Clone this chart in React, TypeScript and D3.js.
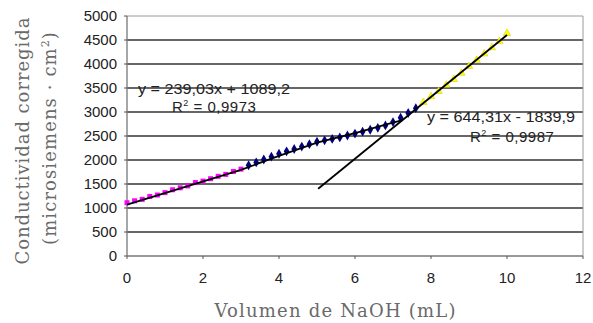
import * as d3 from "d3";

const xTicks = [0, 2, 4, 6, 8, 10, 12];
const yTicks = [0, 500, 1000, 1500, 2000, 2500, 3000, 3500, 4000, 4500, 5000];

// pink squares (acid region)
const pinkX = [0, 0.2, 0.4, 0.6, 0.8, 1.0, 1.2, 1.4, 1.6, 1.8, 2.0, 2.2, 2.4, 2.6, 2.8, 3.0];
const pinkY = [1110, 1150, 1180, 1240, 1270, 1320, 1380, 1420, 1460, 1530, 1560, 1610, 1660, 1700, 1760, 1810];

// navy diamonds (middle region)
const blueX = [3.2, 3.4, 3.6, 3.8, 4.0, 4.2, 4.4, 4.6, 4.8, 5.0, 5.2, 5.4, 5.6, 5.8, 6.0, 6.2, 6.4, 6.6, 6.8, 7.0, 7.2, 7.4, 7.6];
const blueY = [1890, 1950, 2010, 2070, 2130, 2180, 2230, 2280, 2330, 2380, 2410, 2440, 2470, 2510, 2550, 2590, 2630, 2670, 2720, 2790, 2880, 2980, 3080];

// yellow triangles (excess base)
const yellowX = [7.8, 8.0, 8.2, 8.4, 8.6, 8.8, 9.0, 9.2, 9.4, 9.6, 9.8, 10.0];
const yellowY = [3200, 3320, 3430, 3560, 3680, 3810, 3950, 4080, 4210, 4340, 4470, 4640];

// first trend line as drawn, second from its equation
const trend1X = [0, 3, 4, 5, 6, 6.9, 7.25];
const trend1Y = [1070, 1795, 2085, 2360, 2560, 2760, 2831];
const trend2Range = [5.03, 10];
const slope2 = 644.31;
const intercept2 = -1839.9;

export default function App() {
  const width = 593;
  const height = 323;
  const margin = { top: 16, right: 10, bottom: 67, left: 127 };
  const x = d3.scaleLinear([0, 12], [margin.left, width - margin.right]);
  const y = d3.scaleLinear([0, 5000], [height - margin.bottom, margin.top]);
  const tickFont = "'Liberation Sans', Arial, sans-serif";
  const titleFont = "'DejaVu Serif', serif";

  const line = d3.line<[number, number]>().x(d => x(d[0])).y(d => y(d[1]));
  const trend1 = trend1X.map((v, i) => [v, trend1Y[i]] as [number, number]);
  const trend2 = trend2Range.map(v => [v, slope2 * v + intercept2] as [number, number]);
  const tri = d3.symbol(d3.symbolTriangle, 24)() ?? "";
  const dia = d3.symbol(d3.symbolDiamond, 28)() ?? "";

  return (
    <svg
      width={width}
      height={height}
      viewBox={`0 0 ${width} ${height}`}
      style={{ position: "absolute", left: 0, top: 0, background: "#fff" }}
    >
      {yTicks.filter(t => t > 0 && t < 5000).map(t => (
        <line key={t} x1={x(0)} x2={x(12)} y1={y(t)} y2={y(t)} stroke="#333" strokeWidth={1.4} />
      ))}
      <line x1={x(0)} x2={x(12)} y1={y(5000)} y2={y(5000)} stroke="#9a9a9a" strokeWidth={1} />
      <line x1={x(12)} x2={x(12)} y1={y(5000)} y2={y(0)} stroke="#9a9a9a" strokeWidth={1} />
      <line x1={x(0)} x2={x(0)} y1={y(5000)} y2={y(0)} stroke="#777" strokeWidth={1.3} />
      <line x1={x(0)} x2={x(12)} y1={y(0)} y2={y(0)} stroke="#777" strokeWidth={1.3} />

      {yTicks.map(t => (
        <g key={t}>
          <line x1={x(0) - 3} x2={x(0)} y1={y(t)} y2={y(t)} stroke="#555" />
          <text x={x(0) - 10} y={y(t) + 5} textAnchor="end" fontFamily={tickFont} fontSize={15} fill="#222">{t}</text>
        </g>
      ))}
      {xTicks.map(t => (
        <g key={t}>
          <line x1={x(t)} x2={x(t)} y1={y(0)} y2={y(0) + 3} stroke="#555" />
          <text x={x(t)} y={283} textAnchor="middle" fontFamily={tickFont} fontSize={15} fill="#222">{t}</text>
        </g>
      ))}

      {pinkX.map((v, i) => (
        <rect key={`p${i}`} x={x(v) - 2.5} y={y(pinkY[i]) - 2.5} width={5} height={5} fill="#ff00ff" />
      ))}
      {blueX.map((v, i) => (
        <path key={`b${i}`} d={dia} transform={`translate(${x(v)},${y(blueY[i])})`} fill="#000080" />
      ))}
      {yellowX.map((v, i) => (
        <path key={`y${i}`} d={tri} transform={`translate(${x(v)},${y(yellowY[i])})`} fill="#ffff00" stroke="#c8c800" strokeWidth={0.5} />
      ))}

      <path d={line(trend1) ?? undefined} fill="none" stroke="#000" strokeWidth={1.8} />
      <path d={line(trend2) ?? undefined} fill="none" stroke="#000" strokeWidth={1.8} />

      <g fontFamily={tickFont} fontSize={15} fill="#222">
        <text x={138} y={94} textLength={152} lengthAdjust="spacingAndGlyphs">y = 239,03x + 1089,2</text>
        <text x={172} y={112} letterSpacing={0.5}>R<tspan dy={-6} fontSize={9}>2</tspan><tspan dy={6}> = 0,9973</tspan></text>
        <text x={427} y={122} textLength={148} lengthAdjust="spacingAndGlyphs">y = 644,31x - 1839,9</text>
        <text x={470} y={142} letterSpacing={0.5}>R<tspan dy={-6} fontSize={9}>2</tspan><tspan dy={6}> = 0,9987</tspan></text>
      </g>

      <g fontFamily={titleFont} fontSize={18} fill="#6a6a6a">
        <text x={335} y={317} textAnchor="middle" textLength={241} lengthAdjust="spacing">Volumen de NaOH (mL)</text>
        <text transform="translate(29,141) rotate(-90)" textAnchor="middle" textLength={247} lengthAdjust="spacing">Conductividad corregida</text>
        <text transform="translate(56,138) rotate(-90)" textAnchor="middle" letterSpacing={1.1}>
          (microsiemens · cm<tspan dy={-7} fontSize={11}>2</tspan><tspan dy={7}>)</tspan>
        </text>
      </g>
    </svg>
  );
}
